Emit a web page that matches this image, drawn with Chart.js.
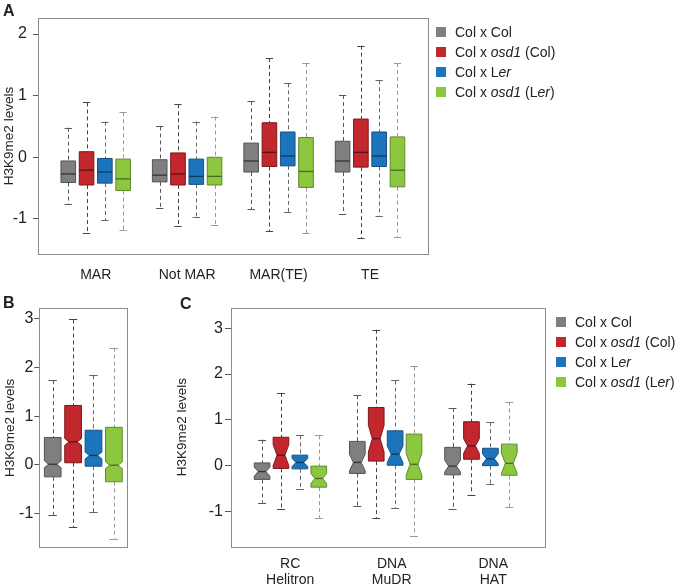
<!DOCTYPE html>
<html>
<head>
<meta charset="utf-8">
<script src="https://cdn.jsdelivr.net/npm/chart.js@4"></script>
<style>
  html, body { margin: 0; padding: 0; background: #fff; }
  #fig { position: relative; width: 675px; height: 588px; font-family: 'Liberation Sans', Arial, sans-serif; color: #222; }
  #fig canvas { position: absolute; }
  .tag { position: absolute; font-weight: bold; font-size: 16px; line-height: 16px; }
  .key { position: absolute; height: 18px; font-size: 14px; line-height: 18px; white-space: nowrap; }
  .key span.sw { position: absolute; left: 0; top: 4px; width: 10px; height: 10px; }
  .key span.tx { position: absolute; left: 19px; top: 0; }
</style>
</head>
<body>
<div id="fig">
  <canvas id="chart-a" width="440" height="285" style="left:0;top:0"></canvas>
  <canvas id="chart-b" width="140" height="270" style="left:0;top:290px"></canvas>
  <canvas id="chart-c" width="385" height="298" style="left:174px;top:290px"></canvas>
  <div class="tag" style="left:3px;top:3px">A</div>
  <div class="tag" style="left:3px;top:295px">B</div>
  <div class="tag" style="left:180px;top:296px">C</div>
  <div id="legend-a"></div>
  <div id="legend-c"></div>
</div>
<script>
const SERIES = ['Col x Col', 'Col x osd1 (Col)', 'Col x Ler', 'Col x osd1 (Ler)'];
const SERIES_HTML = ['Col x Col', 'Col x <i>osd1</i> (Col)', 'Col x L<i>er</i>', 'Col x <i>osd1</i> (L<i>er</i>)'];
const FILL = ['#7f7f7f', '#c1272d', '#1c75bc', '#8dc63f'];
const EDGE = ['#555555', '#7d171b', '#19507f', '#5e8c2f'];
const MID = ['#333333', '#5c1014', '#0f3a5e', '#476d22'];
const WHISK = ['#555555', '#444444', '#666666', '#9a9a9a'];

// rows are [lower whisker, Q1, median, Q3, upper whisker]

// panel A
const catsA = ['MAR', 'Not MAR', 'MAR(TE)', 'TE'];
const ticksA = [-1, 0, 1, 2];
const aColCol = [[-0.76, -0.41, -0.27, -0.06, 0.48], [-0.83, -0.40, -0.29, -0.04, 0.50], [-0.84, -0.24, -0.06, 0.23, 0.91], [-0.92, -0.24, -0.06, 0.26, 1.01]];
const aOsdCol = [[-1.23, -0.45, -0.21, 0.09, 0.89], [-1.12, -0.45, -0.27, 0.07, 0.86], [-1.20, -0.15, 0.08, 0.56, 1.61], [-1.31, -0.16, 0.08, 0.62, 1.81]];
const aColLer = [[-1.02, -0.42, -0.24, -0.02, 0.58], [-0.97, -0.44, -0.31, -0.03, 0.58], [-0.89, -0.14, 0.02, 0.41, 1.20], [-0.95, -0.15, 0.02, 0.41, 1.25]];
const aOsdLer = [[-1.18, -0.54, -0.35, -0.03, 0.73], [-1.10, -0.45, -0.31, 0.00, 0.66], [-1.23, -0.49, -0.23, 0.32, 1.53], [-1.29, -0.48, -0.21, 0.33, 1.53]];

// panel B
const catsB = [''];
const ticksB = [-1, 0, 1, 2, 3];
const bColCol = [[-1.03, -0.25, 0.01, 0.56, 1.74]];
const bOsdCol = [[-1.29, 0.04, 0.47, 1.22, 2.99]];
const bColLer = [[-0.98, -0.03, 0.19, 0.71, 1.84]];
const bOsdLer = [[-1.52, -0.35, -0.01, 0.77, 2.41]];
const bNotch = [[0.07], [0.07], [0.07], [0.07]];

// panel C
const catsC = [['RC', 'Helitron'], ['DNA', 'MuDR'], ['DNA', 'HAT']];
const ticksC = [-1, 0, 1, 2, 3];
const cColCol = [[-0.81, -0.30, -0.13, 0.06, 0.57], [-0.88, -0.17, 0.07, 0.53, 1.54], [-0.94, -0.20, -0.01, 0.40, 1.26]];
const cOsdCol = [[-0.95, -0.06, 0.23, 0.62, 1.59], [-1.14, 0.10, 0.59, 1.27, 2.97], [-0.63, 0.14, 0.43, 0.96, 1.79]];
const cColLer = [[-0.50, -0.07, 0.07, 0.23, 0.66], [-0.93, 0.01, 0.25, 0.76, 1.86], [-0.40, 0.00, 0.15, 0.38, 0.95]];
const cOsdLer = [[-1.14, -0.47, -0.28, -0.01, 0.66], [-1.53, -0.30, 0.03, 0.69, 2.17], [-0.90, -0.21, 0.05, 0.47, 1.40]];
const cNotch = [[0.10, 0.18, 0.13], [0.23, 0.29, 0.16], [0.09, 0.18, 0.11], [0.11, 0.24, 0.22]];

Chart.defaults.font.family = "'Liberation Sans', Arial, sans-serif";
Chart.defaults.color = '#222';

// frame around the plotting area
const frame = {
    id: 'frame',
    afterDraw(chart) {
        const { ctx, chartArea: a } = chart;
        ctx.save();
        ctx.strokeStyle = '#8c8c8c';
        ctx.lineWidth = 1;
        ctx.strokeRect(Math.round(a.left) + 0.5, Math.round(a.top) + 0.5, Math.round(a.right - a.left), Math.round(a.bottom - a.top));
        ctx.restore();
    },
};

// whiskers, (notched) boxes and medians on top of the invisible floating bars
const boxPlot = {
    id: 'boxPlot',
    afterDatasetsDraw(chart) {
        const ctx = chart.ctx;
        const y = chart.scales.y;
        chart.data.datasets.forEach((ds, d) => {
            chart.getDatasetMeta(d).data.forEach((bar, i) => {
                const [lo, q1, med, q3, hi] = ds.stats[i];
                const n = ds.notch ? ds.notch[i] : 0;
                const xs = Math.round(bar.x) + 0.5;
                const hw = bar.width / 2;
                const l = bar.x - hw, r = bar.x + hw;
                const pLo = y.getPixelForValue(lo), pQ1 = y.getPixelForValue(q1);
                const pMed = y.getPixelForValue(med), pQ3 = y.getPixelForValue(q3);
                const pHi = y.getPixelForValue(hi);

                ctx.save();
                ctx.lineWidth = 1;
                ctx.strokeStyle = WHISK[d];
                ctx.setLineDash([4, 3]);
                ctx.beginPath();
                ctx.moveTo(xs, pHi); ctx.lineTo(xs, pQ3);
                ctx.moveTo(xs, pQ1); ctx.lineTo(xs, pLo);
                ctx.stroke();
                ctx.setLineDash([]);
                ctx.beginPath();
                ctx.moveTo(bar.x - hw / 2, Math.round(pHi) + 0.5); ctx.lineTo(bar.x + hw / 2, Math.round(pHi) + 0.5);
                ctx.moveTo(bar.x - hw / 2, Math.round(pLo) + 0.5); ctx.lineTo(bar.x + hw / 2, Math.round(pLo) + 0.5);
                ctx.stroke();

                ctx.beginPath();
                if (n > 0) {
                    const pN1 = Math.max(y.getPixelForValue(Math.min(med + n, q3)), pQ3);
                    const pN2 = Math.min(y.getPixelForValue(Math.max(med - n, q1)), pQ1);
                    const inset = hw / 2;
                    ctx.moveTo(l, pQ3); ctx.lineTo(r, pQ3); ctx.lineTo(r, pN1);
                    ctx.lineTo(r - inset, pMed); ctx.lineTo(r, pN2); ctx.lineTo(r, pQ1);
                    ctx.lineTo(l, pQ1); ctx.lineTo(l, pN2); ctx.lineTo(l + inset, pMed);
                    ctx.lineTo(l, pN1); ctx.closePath();
                } else {
                    ctx.rect(l, pQ3, r - l, pQ1 - pQ3);
                }
                ctx.fillStyle = FILL[d];
                ctx.fill();
                ctx.strokeStyle = EDGE[d];
                ctx.stroke();

                const mi = n > 0 ? hw / 2 : 0;
                ctx.beginPath();
                ctx.strokeStyle = MID[d];
                ctx.lineWidth = 1.3;
                ctx.moveTo(l + mi, pMed); ctx.lineTo(r - mi, pMed);
                ctx.stroke();
                ctx.restore();
            });
        });
    },
};

function setTicks(values) {
    return scale => {
        scale.ticks = values.map(v => ({ value: v }));
    };
}

function categoryAxis(p, min, max, visible) {
    return {
        type: 'linear',
        position: 'bottom',
        min: min,
        max: max,
        offset: false,
        display: visible,
        afterBuildTicks: setTicks(p.cats.map((c, i) => i)),
        afterFit: visible ? s => { s.height = p.xHeight; } : undefined,
        grid: { display: false, offset: false },
        border: { display: false },
        ticks: {
            maxRotation: 0,
            autoSkip: false,
            padding: p.xPad,
            font: { size: 14, lineHeight: 1.15 },
            callback: v => p.cats[v],
        },
    };
}

function makeBoxChart(id, p) {
    const datasets = p.series.map((rows, d) => ({
        label: SERIES[d],
        data: rows.map((r, i) => ({ x: i, y: [r[1], r[3]] })),
        stats: rows,
        notch: p.notch ? p.notch[d] : null,
        backgroundColor: 'rgba(0,0,0,0)',
        borderWidth: 0,
        categoryPercentage: p.catPct,
        barPercentage: p.barPct,
    }));

    const scales = {
        x: categoryAxis(p, p.xMin, p.xMax, !p.labelAxis && p.showX),
        y: {
            min: p.yMin,
            max: p.yMax,
            afterBuildTicks: setTicks(p.yTicks),
            afterFit: s => { s.width = p.yWidth; },
            grid: { drawOnChartArea: false, tickLength: p.tickLen, color: '#555' },
            border: { display: false },
            ticks: { font: { size: 16 }, padding: p.yPad },
            title: {
                display: true,
                text: 'H3K9me2 levels',
                font: { size: 13.5 },
                padding: { top: p.titlePad, bottom: 0 },
            },
        },
    };

    // category labels in C sit on their own scale, slightly apart from the box groups
    if (p.labelAxis) {
        scales.xl = categoryAxis(p, p.labelAxis.min, p.labelAxis.max, true);
    }

    const ctx = document.getElementById(id).getContext('2d');
    return new Chart(ctx, {
        type: 'bar',
        data: { datasets },
        options: {
            responsive: false,
            animation: false,
            layout: { padding: p.padding },
            plugins: { legend: { display: false }, tooltip: { enabled: false } },
            scales,
        },
        plugins: [frame, boxPlot],
    });
}

function makeLegend(id, left, top) {
    const box = document.getElementById(id);
    SERIES_HTML.forEach((html, d) => {
        const row = document.createElement('div');
        row.className = 'key';
        row.style.left = left + 'px';
        row.style.top = (top + d * 20) + 'px';
        row.innerHTML = '<span class="sw" style="background:' + FILL[d] + '"></span><span class="tx">' + html + '</span>';
        box.appendChild(row);
    });
}

makeBoxChart('chart-a', {
    cats: catsA,
    series: [aColCol, aOsdCol, aColLer, aOsdLer],
    yTicks: ticksA, yMin: -1.57, yMax: 2.26,
    xMin: -0.631, xMax: 3.634,
    catPct: 0.8, barPct: 0.8,
    showX: true, xHeight: 31, xPad: 5,
    yWidth: 38, tickLen: 5, yPad: 6, titlePad: 1,
    padding: { left: 0, top: 18, right: 12, bottom: 0 },
});

makeBoxChart('chart-b', {
    cats: catsB,
    series: [bColCol, bOsdCol, bColLer, bOsdLer],
    notch: bNotch,
    yTicks: ticksB, yMin: -1.70, yMax: 3.22,
    xMin: -0.5, xMax: 0.5,
    catPct: 0.927, barPct: 0.82,
    showX: false, xPad: 0,
    yWidth: 39.3, tickLen: 5, yPad: 1, titlePad: 2,
    padding: { left: 0, top: 18.3, right: 12.7, bottom: 12.7 },
});

makeBoxChart('chart-c', {
    cats: catsC,
    series: [cColCol, cOsdCol, cColLer, cOsdLer],
    notch: cNotch,
    yTicks: ticksC, yMin: -1.77, yMax: 3.45,
    xMin: -0.624, xMax: 2.676,
    labelAxis: { min: -0.583, max: 2.513 },
    catPct: 0.794, barPct: 0.83,
    showX: false, xHeight: 41.3, xPad: 1,
    yWidth: 57, tickLen: 6, yPad: 2, titlePad: 0,
    padding: { left: 0, top: 17.7, right: 13.7, bottom: 0 },
});

makeLegend('legend-a', 436, 23);
makeLegend('legend-c', 556, 313);
</script>
</body>
</html>
